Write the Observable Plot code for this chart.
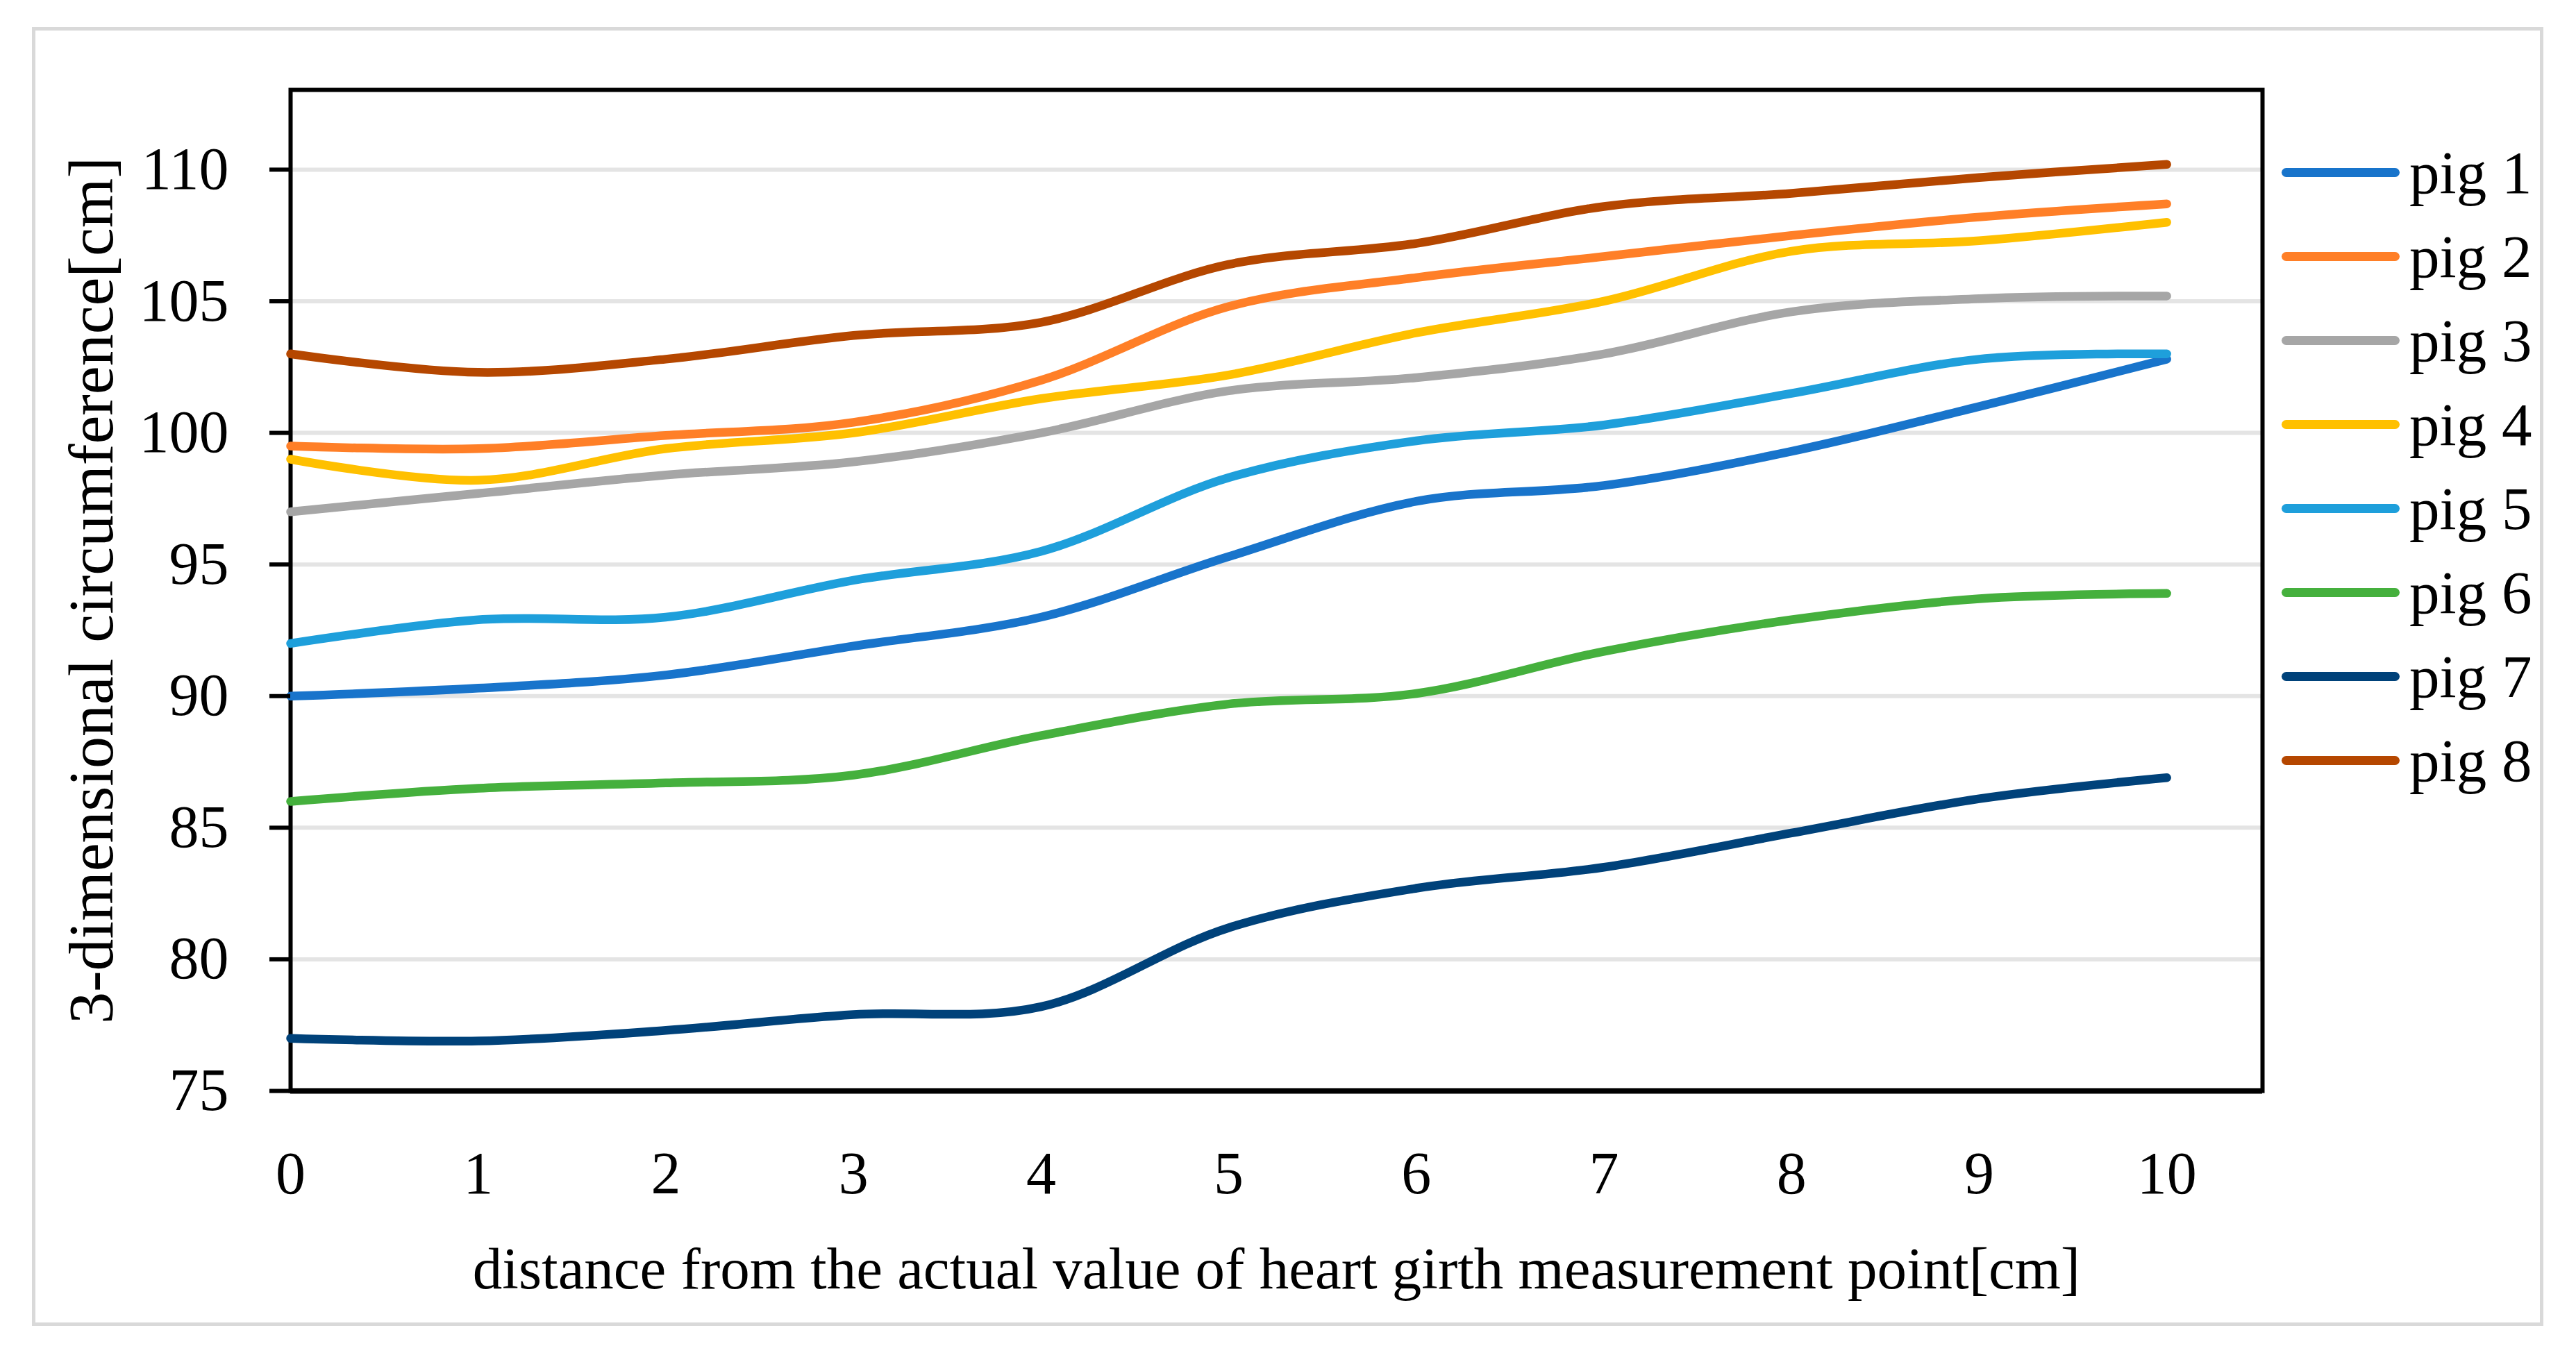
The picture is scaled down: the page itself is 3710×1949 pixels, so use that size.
<!DOCTYPE html>
<html>
<head>
<meta charset="utf-8">
<script src="https://cdn.jsdelivr.net/npm/d3@7"></script>
<script src="https://cdn.jsdelivr.net/npm/@observablehq/plot@0.6"></script>
<style>
  html, body { margin: 0; padding: 0; background: white; }
  #wrap { position: relative; width: 3710px; height: 1949px; overflow: hidden; font-family: "Liberation Serif", "DejaVu Serif", serif; }
  #border { position: absolute; left: 46px; top: 39px; width: 3617px; height: 1871px; box-sizing: border-box; border: 5px solid #d9d9d9; pointer-events: none; }
  #chart { position: absolute; left: 0; top: 0; }
  #legend { position: absolute; left: 3286px; top: 188px; }
  .row { display: flex; align-items: center; height: 121px; }
  .sw { width: 170px; height: 13px; border-radius: 6.5px; margin-right: 14px; }
  .lbl { font-size: 87px; color: black; line-height: 1; }
</style>
</head>
<body>
<div id="wrap">
  <div id="chart"></div>
  <div id="legend"></div>
  <div id="border"></div>
</div>
<script>
const distance = [0, 1, 2, 3, 4, 5, 6, 7, 8, 9, 10];
const pigNames = ["pig 1", "pig 2", "pig 3", "pig 4", "pig 5", "pig 6", "pig 7", "pig 8"];
const pigColors = ["#1874CB", "#FF7F27", "#A6A6A6", "#FFC000", "#1E9FDB", "#45B03D", "#00427A", "#B54700"];
const pig1 = [90.0, 90.3, 90.8, 91.9, 93.0, 95.3, 97.4, 98.0, 99.3, 101.0, 102.8];
const pig2 = [99.5, 99.4, 99.9, 100.4, 102.0, 104.8, 105.9, 106.7, 107.5, 108.2, 108.7];
const pig3 = [97.0, 97.7, 98.4, 98.9, 100.0, 101.6, 102.1, 103.0, 104.6, 105.1, 105.2];
const pig4 = [99.0, 98.2, 99.4, 100.0, 101.3, 102.2, 103.8, 105.0, 106.9, 107.3, 108.0];
const pig5 = [92.0, 92.9, 93.0, 94.4, 95.5, 98.3, 99.7, 100.3, 101.5, 102.8, 103.0];
const pig6 = [86.0, 86.5, 86.7, 87.0, 88.5, 89.7, 90.1, 91.7, 92.9, 93.7, 93.9];
const pig7 = [77.0, 76.9, 77.3, 77.9, 78.2, 81.2, 82.7, 83.5, 84.8, 86.1, 86.9];
const pig8 = [103.0, 102.3, 102.8, 103.7, 104.2, 106.4, 107.2, 108.6, 109.1, 109.7, 110.2];
const yTicks = [75, 80, 85, 90, 95, 100, 105, 110];
const xTicks = [0, 1, 2, 3, 4, 5, 6, 7, 8, 9, 10];
const xTitle = "distance from the actual value of heart girth measurement point[cm]";
const yTitle = "3-dimensional circumference[cm]";

const series = [pig1, pig2, pig3, pig4, pig5, pig6, pig7, pig8];
const table = [];
series.forEach((vals, i) => vals.forEach((v, j) => table.push({pig: pigNames[i], d: distance[j], v})));

const plot = Plot.plot({
  width: 3710,
  height: 1949,
  marginLeft: 418,
  marginRight: 452,
  marginTop: 129,
  marginBottom: 378,
  style: {fontFamily: "Liberation Serif, DejaVu Serif, serif", fontSize: "86px", color: "black", background: "transparent", overflow: "visible"},
  x: {domain: [0, 10.51]},
  y: {domain: [75, 113.03]},
  color: {domain: pigNames, range: pigColors},
  marks: [
    Plot.gridY(yTicks, {stroke: "#e4e4e4", strokeOpacity: 1, strokeWidth: 6}),
    Plot.frame({stroke: "black", strokeWidth: 6}),
    Plot.line(table, {x: "d", y: "v", z: "pig", stroke: "pig", strokeWidth: 12.5, curve: "catmull-rom", strokeLinecap: "round", strokeLinejoin: "round"}),
    Plot.axisY({ticks: yTicks, tickSize: 30, tickPadding: 59, strokeWidth: 6, fontSize: 86, label: null}),
    Plot.axisY({ticks: [], tickSize: 0, fontSize: 92, label: yTitle, labelAnchor: "center", labelOffset: 322, labelArrow: "none"}),
    Plot.axisX({ticks: xTicks, tickSize: 0, tickPadding: 86, fontSize: 86, label: null}),
    Plot.axisX({ticks: [], tickSize: 0, fontSize: 85, label: xTitle, labelAnchor: "center", labelOffset: 284, labelArrow: "none"}),
    Plot.ruleY([75], {stroke: "black", strokeWidth: 8})
  ]
});
document.getElementById("chart").appendChild(plot);

const legend = document.getElementById("legend");
pigNames.forEach((name, i) => {
  const row = document.createElement("div");
  row.className = "row";
  const sw = document.createElement("div");
  sw.className = "sw";
  sw.style.background = pigColors[i];
  const lbl = document.createElement("span");
  lbl.className = "lbl";
  lbl.textContent = name;
  row.appendChild(sw);
  row.appendChild(lbl);
  legend.appendChild(row);
});
</script>
</body>
</html>
